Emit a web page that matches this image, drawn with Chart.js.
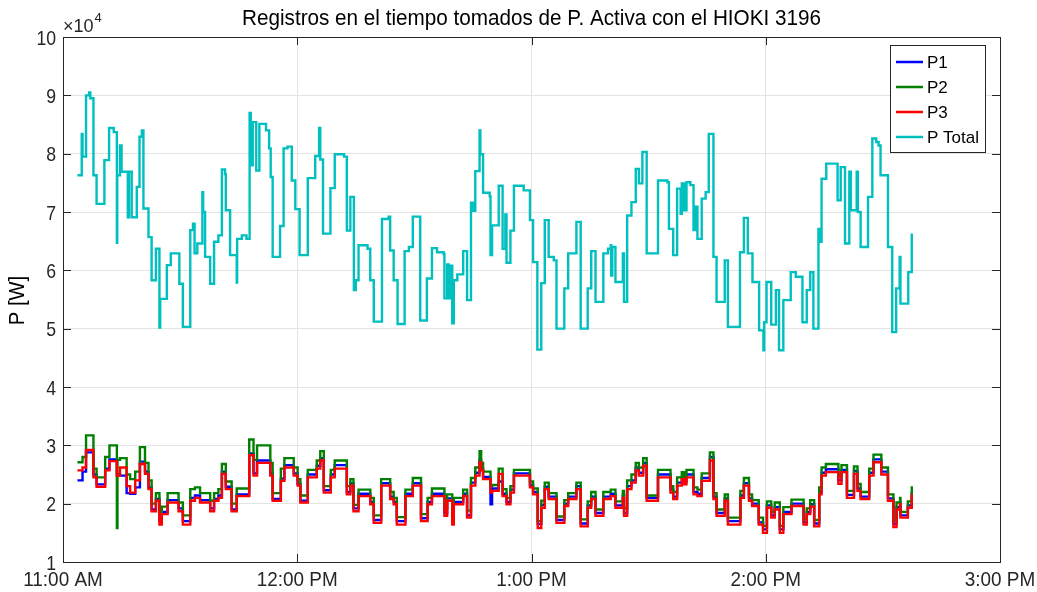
<!DOCTYPE html>
<html>
<head>
<meta charset="utf-8">
<script src="https://cdn.jsdelivr.net/npm/chart.js@4/dist/chart.umd.min.js"></script>
<style>
  html, body { margin: 0; padding: 0; background: #fff; }
  #wrap { width: 1037px; height: 592px; }
</style>
</head>
<body>
<div id="wrap"><canvas id="c" width="1037" height="592"></canvas></div>
<script>
// time in minutes after 11:00 AM, power in units of 10^4 W
const xTickLabels = ['11:00 AM', '12:00 PM', '1:00 PM', '2:00 PM', '3:00 PM'];
const yTicks = [1, 2, 3, 4, 5, 6, 7, 8, 9, 10];

const tTotal = [
  3.7, 4.8, 5.0, 5.9, 6.7, 7.0, 7.8, 8.6, 10.6, 11.8, 13.0, 13.8, 13.9, 14.6, 15.0, 16.6, 16.9, 17.6, 18.9, 19.6,
  20.2, 20.6, 21.9, 22.7, 23.8, 24.7, 24.9, 26.6, 27.6, 29.8, 30.7, 32.6, 33.3, 33.7, 34.4, 35.7, 35.9, 36.4, 37.7, 38.7,
  39.8, 40.7, 41.5, 41.7, 42.8, 44.5, 44.6, 45.8, 47.0, 47.8, 48.1, 48.6, 49.5, 50.3, 52.0, 52.8, 53.2, 53.7, 55.6, 56.5,
  57.5, 58.6, 59.5, 60.6, 62.7, 64.6, 65.6, 65.9, 66.6, 68.5, 69.6, 72.0, 72.7, 73.6, 74.5, 75.0, 75.7, 78.0, 78.7, 79.6,
  81.7, 83.4, 83.8, 84.7, 85.7, 87.5, 88.6, 89.6, 91.5, 93.2, 94.5, 95.8, 97.5, 97.7, 98.4, 98.8, 99.4, 99.7, 100.1, 101.0,
  102.5, 103.5, 104.5, 105.0, 105.6, 106.7, 106.9, 107.6, 109.3, 109.5, 109.9, 111.6, 112.6, 113.3, 113.6, 114.6, 115.5, 118.0, 119.6, 120.4,
  121.5, 122.5, 123.4, 124.4, 125.7, 126.4, 128.4, 129.4, 131.5, 132.6, 134.4, 135.3, 136.4, 138.4, 139.6, 140.3, 140.4, 140.7, 141.5, 143.4,
  143.7, 144.5, 145.6, 146.7, 147.5, 148.4, 149.5, 152.4, 154.8, 155.2, 156.3, 157.3, 158.2, 158.5, 159.1, 159.7, 160.7, 161.5, 162.0, 162.5,
  163.6, 164.6, 165.4, 166.6, 167.4, 169.5, 170.3, 173.4, 174.4, 175.4, 176.6, 178.3, 179.4, 179.6, 180.2, 181.4, 182.6, 183.4, 184.5, 186.4,
  187.7, 189.4, 190.5, 191.4, 192.2, 193.5, 193.9, 194.3, 195.5, 198.4, 199.2, 200.3, 201.4, 201.8, 203.3, 203.6, 204.3, 206.2, 207.3, 208.3,
  208.9, 209.4, 211.3, 212.4, 213.4, 214.3, 214.5, 216.5, 217.4
];
const pTotal = [
  7.63, 8.34, 7.95, 9.00, 9.05, 8.95, 7.63, 7.14, 7.89, 8.44, 8.37, 6.47, 7.63, 8.14, 7.69, 6.91, 7.69, 6.91, 7.43, 8.29,
  8.40, 7.06, 6.57, 5.83, 6.37, 5.02, 5.51, 6.09, 6.29, 5.77, 5.03, 6.69, 6.80, 6.29, 6.46, 7.34, 7.00, 6.23, 5.77, 6.49,
  6.60, 7.73, 7.65, 7.03, 6.26, 5.79, 6.54, 6.60, 6.54, 8.70, 7.80, 8.54, 7.71, 8.51, 8.40, 8.09, 7.60, 6.23, 6.76, 8.09,
  8.12, 7.54, 7.05, 6.26, 7.58, 7.96, 8.44, 7.90, 6.63, 7.41, 7.99, 7.95, 6.68, 7.26, 5.66, 5.83, 6.43, 6.37, 5.83, 5.12,
  6.88, 6.92, 6.34, 5.83, 5.08, 6.33, 6.40, 6.92, 5.14, 5.86, 6.38, 6.31, 6.28, 5.52, 6.10, 5.52, 6.08, 5.09, 5.83, 5.93,
  6.33, 5.49, 7.16, 7.02, 7.70, 8.40, 7.99, 7.33, 7.27, 6.26, 6.77, 7.45, 6.37, 6.96, 6.13, 6.68, 7.45, 7.37, 6.86, 6.14,
  4.64, 5.78, 6.86, 6.23, 6.17, 5.00, 5.69, 6.29, 6.83, 5.00, 5.69, 6.33, 5.46, 6.29, 6.37, 6.43, 5.91, 6.40, 5.80, 6.29,
  5.46, 6.94, 7.17, 7.74, 7.49, 8.03, 6.29, 7.54, 7.51, 6.71, 6.26, 7.40, 6.97, 7.49, 7.03, 7.51, 7.46, 6.69, 7.09, 6.54,
  7.23, 7.34, 8.34, 6.23, 5.46, 6.17, 5.03, 6.31, 6.90, 6.29, 5.80, 4.97, 4.63, 5.11, 5.80, 5.07, 5.66, 4.63, 5.49, 5.97,
  5.89, 5.11, 5.66, 5.97, 5.00, 6.71, 6.49, 7.57, 7.83, 7.20, 7.77, 6.46, 7.69, 7.03, 7.69, 7.00, 6.40, 7.26, 8.26, 8.20,
  8.14, 7.63, 6.40, 4.94, 5.69, 6.23, 5.43, 5.97, 6.63
];

const tPhase = [
  3.7, 5.0, 5.9, 7.8, 8.6, 10.8, 11.9, 13.8, 13.95, 14.6, 16.3, 17.2, 18.5, 19.7, 21.0, 21.9, 22.7, 23.8, 24.7, 25.3,
  26.8, 29.6, 30.7, 32.6, 33.8, 35.1, 37.7, 38.7, 39.8, 40.7, 41.7, 43.2, 44.5, 47.7, 48.8, 49.7, 53.1, 53.7, 55.8, 56.7,
  59.1, 60.1, 60.8, 62.7, 65.0, 65.9, 66.8, 68.6, 69.6, 72.7, 73.6, 74.4, 75.7, 78.7, 79.6, 81.5, 83.8, 84.7, 85.5, 87.7,
  89.6, 91.7, 93.4, 94.5, 97.7, 98.4, 99.7, 100.1, 102.5, 103.5, 104.5, 105.6, 106.7, 107.1, 107.6, 109.5, 109.9, 111.6, 112.6, 113.6,
  114.6, 115.5, 119.6, 120.4, 121.6, 122.5, 123.4, 124.4, 126.4, 128.4, 129.4, 131.5, 132.6, 134.4, 135.3, 136.4, 138.4, 140.3, 141.5, 143.4,
  143.7, 144.5, 145.6, 146.7, 147.5, 148.6, 149.5, 152.4, 155.6, 156.3, 157.3, 158.5, 159.1, 159.7, 161.5, 162.5, 163.6, 165.7, 166.6, 167.4,
  169.5, 170.3, 173.5, 174.4, 175.7, 176.5, 178.2, 179.3, 180.3, 181.4, 182.3, 183.6, 184.5, 186.6, 189.7, 190.5, 191.4, 192.4, 193.7, 194.3,
  195.4, 198.6, 199.4, 200.8, 202.6, 203.5, 204.3, 206.5, 207.6, 209.6, 211.3, 212.7, 213.5, 214.4, 214.5, 216.4, 217.4
];
const p1 = [
  2.40, 2.55, 2.88, 2.50, 2.33, 2.60, 2.76, 2.50, 2.50, 2.48, 2.18, 2.17, 2.28, 2.72, 2.55, 2.28, 1.90, 2.08, 1.70, 1.86,
  2.06, 1.92, 1.70, 2.10, 2.14, 2.06, 1.92, 2.08, 2.14, 2.55, 2.29, 1.90, 2.16, 2.86, 2.52, 2.74, 2.52, 2.08, 2.43, 2.66,
  2.52, 2.34, 2.05, 2.50, 2.65, 2.78, 2.23, 2.50, 2.66, 2.20, 2.35, 1.92, 2.17, 2.03, 1.72, 2.35, 2.12, 2.03, 1.70, 2.17,
  2.35, 1.75, 2.03, 2.17, 1.84, 2.09, 1.70, 2.03, 2.17, 1.80, 2.36, 2.53, 2.75, 2.60, 2.46, 1.99, 2.26, 2.38, 2.17, 2.03,
  2.24, 2.52, 2.32, 2.20, 1.65, 1.98, 2.29, 2.12, 1.72, 2.00, 2.12, 2.30, 1.66, 1.97, 2.12, 1.84, 2.12, 2.17, 1.97, 2.14,
  1.84, 2.30, 2.40, 2.62, 2.53, 2.70, 2.10, 2.50, 2.24, 2.12, 2.36, 2.46, 2.38, 2.50, 2.20, 2.17, 2.44, 2.80, 2.12, 1.84,
  2.09, 1.70, 2.14, 2.35, 2.09, 2.00, 1.68, 1.56, 1.97, 1.80, 1.94, 1.56, 1.86, 2.00, 1.68, 1.86, 1.99, 1.66, 2.20, 2.53,
  2.59, 2.40, 2.58, 2.15, 2.56, 2.26, 2.12, 2.53, 2.76, 2.55, 2.09, 1.65, 1.94, 2.03, 1.80, 1.97, 2.20
];
const p2 = [
  2.71, 2.80, 3.17, 2.60, 2.45, 2.80, 3.00, 1.58, 2.75, 2.78, 2.50, 2.42, 2.55, 2.97, 2.70, 2.40, 2.00, 2.18, 1.78, 1.95,
  2.18, 2.02, 1.80, 2.25, 2.28, 2.18, 2.05, 2.18, 2.25, 2.68, 2.38, 2.00, 2.26, 3.10, 2.75, 3.00, 2.70, 2.18, 2.60, 2.78,
  2.62, 2.42, 2.14, 2.58, 2.74, 2.90, 2.30, 2.58, 2.74, 2.30, 2.42, 1.98, 2.24, 2.10, 1.80, 2.42, 2.20, 2.10, 1.77, 2.24,
  2.44, 1.82, 2.10, 2.26, 1.92, 2.16, 1.90, 2.10, 2.24, 1.88, 2.44, 2.62, 2.90, 2.70, 2.55, 2.30, 2.32, 2.60, 2.25, 2.10,
  2.30, 2.58, 2.38, 2.26, 1.70, 2.05, 2.36, 2.18, 1.78, 2.06, 2.18, 2.36, 1.73, 2.04, 2.20, 1.90, 2.20, 2.24, 2.04, 2.22,
  1.92, 2.40, 2.50, 2.70, 2.62, 2.78, 2.14, 2.58, 2.30, 2.20, 2.45, 2.54, 2.45, 2.58, 2.28, 2.24, 2.52, 2.88, 2.18, 1.90,
  2.16, 1.76, 2.22, 2.44, 2.16, 2.06, 1.76, 1.62, 2.04, 1.86, 2.02, 1.62, 1.94, 2.07, 1.74, 1.92, 2.06, 1.72, 2.28, 2.62,
  2.68, 2.48, 2.66, 2.22, 2.64, 2.34, 2.20, 2.60, 2.84, 2.62, 2.16, 1.72, 2.02, 2.10, 1.86, 2.04, 2.30
];
const p3 = [
  2.57, 2.62, 2.92, 2.45, 2.29, 2.57, 2.73, 2.48, 2.48, 2.62, 2.30, 2.19, 2.40, 2.68, 2.51, 2.25, 1.87, 2.05, 1.64, 1.82,
  2.02, 1.87, 1.64, 2.05, 2.10, 2.02, 1.87, 2.05, 2.10, 2.51, 2.25, 1.87, 2.13, 2.83, 2.48, 2.70, 2.48, 2.05, 2.39, 2.62,
  2.48, 2.31, 2.02, 2.45, 2.60, 2.74, 2.19, 2.45, 2.60, 2.16, 2.31, 1.87, 2.13, 1.99, 1.67, 2.31, 2.08, 1.99, 1.64, 2.13,
  2.31, 1.70, 1.99, 2.13, 1.79, 2.05, 1.64, 1.99, 2.13, 1.76, 2.31, 2.48, 2.71, 2.57, 2.42, 2.19, 2.22, 2.51, 2.13, 1.99,
  2.19, 2.48, 2.28, 2.16, 1.58, 1.93, 2.25, 2.08, 1.67, 1.96, 2.08, 2.25, 1.61, 1.93, 2.08, 1.79, 2.08, 2.13, 1.93, 2.10,
  1.79, 2.25, 2.36, 2.57, 2.48, 2.65, 2.05, 2.45, 2.19, 2.08, 2.31, 2.42, 2.33, 2.45, 2.16, 2.13, 2.39, 2.74, 2.08, 1.79,
  2.05, 1.64, 2.10, 2.31, 2.05, 1.96, 1.64, 1.50, 1.93, 1.76, 1.90, 1.50, 1.82, 1.96, 1.64, 1.82, 1.95, 1.61, 2.16, 2.48,
  2.54, 2.34, 2.54, 2.10, 2.51, 2.22, 2.08, 2.48, 2.71, 2.50, 2.05, 1.60, 1.90, 1.99, 1.76, 1.93, 2.16
];

const seriesNames = ['P1', 'P2', 'P3', 'P Total'];
const seriesColors = ['#0000ff', '#008000', '#ff0000', '#00bfbf'];

const FONT = '"Liberation Sans", Arial, sans-serif';
const INK = '#262626';

function pts(t, v) {
  return t.map((x, i) => ({ x: x, y: v[i] }));
}

// narrow-ish text like the exported figure
function txt(ctx, s, x, y, size, align, sx) {
  ctx.save();
  ctx.translate(x, y);
  ctx.scale(sx, 1);
  ctx.font = size + 'px ' + FONT;
  ctx.textAlign = align;
  ctx.fillText(s, 0, 0);
  ctx.restore();
}

const frame = {
  id: 'frame',
  afterDraw(chart) {
    const ctx = chart.ctx;
    const a = chart.chartArea;
    const xs = chart.scales.x, ys = chart.scales.y;
    ctx.save();
    // box
    ctx.strokeStyle = INK;
    ctx.lineWidth = 1;
    ctx.strokeRect(a.left + 0.5, a.top + 0.5, a.right - a.left, a.bottom - a.top);
    // inward tick marks
    ctx.beginPath();
    yTicks.forEach(v => {
      const y = Math.round(ys.getPixelForValue(v)) + 0.5;
      ctx.moveTo(a.left, y); ctx.lineTo(a.left + 8, y);
      ctx.moveTo(a.right, y); ctx.lineTo(a.right - 8, y);
    });
    xTickLabels.forEach((l, i) => {
      const x = Math.round(xs.getPixelForValue(i * 60)) + 0.5;
      ctx.moveTo(x, a.bottom); ctx.lineTo(x, a.bottom - 8);
      ctx.moveTo(x, a.top); ctx.lineTo(x, a.top + 8);
    });
    ctx.stroke();

    // tick labels
    ctx.fillStyle = INK;
    ctx.textBaseline = 'middle';
    yTicks.forEach(v => {
      txt(ctx, String(v), a.left - 7, ys.getPixelForValue(v) + 2, 21, 'right', 0.84);
    });
    xTickLabels.forEach((l, i) => {
      txt(ctx, l, xs.getPixelForValue(i * 60), 580, 21, 'center', 0.9);
    });

    // title
    ctx.fillStyle = '#000';
    txt(ctx, 'Registros en el tiempo tomados de P. Activa con el HIOKI 3196', (a.left + a.right) / 2, 19, 22, 'center', 0.94);

    // y label
    ctx.save();
    ctx.translate(18, (a.top + a.bottom) / 2 + 1);
    ctx.rotate(-Math.PI / 2);
    txt(ctx, 'P [W]', 0, 0, 22, 'center', 0.92);
    ctx.restore();

    // exponent
    ctx.fillStyle = INK;
    ctx.textBaseline = 'alphabetic';
    ctx.font = '18px ' + FONT;
    ctx.textAlign = 'left';
    ctx.fillText('\u00d710', a.left, 32);
    const w = ctx.measureText('\u00d710').width;
    ctx.font = '13px ' + FONT;
    ctx.fillText('4', a.left + w + 1, 22);

    // legend
    const lx = 890, ly = 45, lw = 95, lh = 107;
    ctx.fillStyle = '#fff';
    ctx.fillRect(lx, ly, lw, lh);
    ctx.strokeStyle = INK;
    ctx.lineWidth = 1;
    ctx.strokeRect(lx + 0.5, ly + 0.5, lw, lh);
    const rows = [62, 87, 112, 137];
    ctx.font = '17px ' + FONT;
    ctx.textBaseline = 'middle';
    seriesNames.forEach((n, i) => {
      ctx.strokeStyle = seriesColors[i];
      ctx.lineWidth = 2.5;
      ctx.beginPath();
      ctx.moveTo(896, rows[i]); ctx.lineTo(923, rows[i]);
      ctx.stroke();
      ctx.fillStyle = '#000';
      ctx.fillText(n, 927, rows[i] + 1);
    });
    ctx.restore();
  }
};

const data = [pts(tPhase, p1), pts(tPhase, p2), pts(tPhase, p3), pts(tTotal, pTotal)];

new Chart(document.getElementById('c'), {
  type: 'line',
  data: {
    datasets: seriesNames.map((n, i) => ({
      label: n,
      data: data[i],
      borderColor: seriesColors[i],
      borderWidth: 2.4,
      pointRadius: 0,
      stepped: true,
      fill: false,
      order: 4 - i
    }))
  },
  options: {
    responsive: false,
    animation: false,
    events: [],
    layout: { padding: { top: 37, right: 37, left: 0, bottom: 0 } },
    plugins: { legend: { display: false }, tooltip: { enabled: false }, title: { display: false } },
    scales: {
      x: {
        type: 'linear',
        min: 0,
        max: 240,
        afterFit: s => { s.height = 30; },
        grid: { color: '#e3e3e3', drawTicks: false },
        border: { display: false },
        ticks: { stepSize: 60, autoSkip: false, maxRotation: 0, display: false }
      },
      y: {
        min: 1,
        max: 10,
        afterFit: s => { s.width = 63; },
        grid: { color: '#e3e3e3', drawTicks: false },
        border: { display: false },
        ticks: { stepSize: 1, display: false }
      }
    }
  },
  plugins: [frame]
});
</script>
</body>
</html>
